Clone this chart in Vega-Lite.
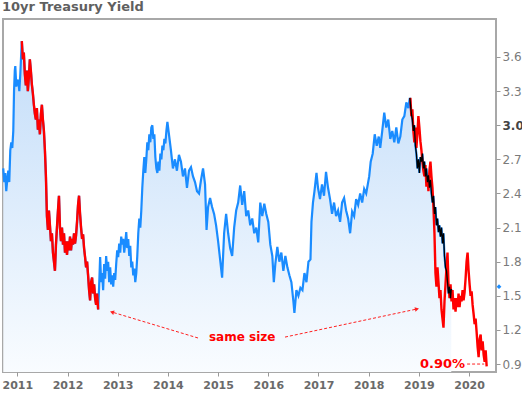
{
"$schema": "https://vega.github.io/schema/vega-lite/v6.json",
"width": 493, "height": 353,
"autosize": "none",
"padding": {"left": 3, "top": 19, "right": 26, "bottom": 21},
"background": "white",
"config": {"view": {"stroke": "#a8a8a8", "strokeWidth": 2}, "font": "DejaVu Sans"},
"title": {"text": "10yr Treasury Yield", "anchor": "start", "frame": "group", "font": "DejaVu Sans", "fontSize": 13, "fontWeight": "bold", "color": "#5f5f5f", "offset": 5, "dx": -1},
"datasets": {
"y": [
{"t":2010.72,"v":2.62},{"t":2010.74,"v":2.50},{"t":2010.76,"v":2.58},{"t":2010.78,"v":2.42},{"t":2010.80,"v":2.52},{"t":2010.82,"v":2.60},{"t":2010.84,"v":2.50},{"t":2010.86,"v":2.78},{"t":2010.88,"v":2.85},{"t":2010.90,"v":2.80},{"t":2010.92,"v":2.95},{"t":2010.935,"v":3.30},{"t":2010.95,"v":3.48},{"t":2010.96,"v":3.52},{"t":2010.98,"v":3.34},{"t":2011.00,"v":3.38},
{"t":2011.02,"v":3.40},{"t":2011.04,"v":3.30},{"t":2011.06,"v":3.45},{"t":2011.075,"v":3.60},{"t":2011.09,"v":3.74},{"t":2011.11,"v":3.58},{"t":2011.13,"v":3.64},{"t":2011.15,"v":3.45},{"t":2011.17,"v":3.35},{"t":2011.19,"v":3.48},{"t":2011.21,"v":3.30},{"t":2011.23,"v":3.42},{"t":2011.25,"v":3.58},{"t":2011.27,"v":3.48},{"t":2011.29,"v":3.36},{"t":2011.31,"v":3.28},{"t":2011.33,"v":3.18},{"t":2011.35,"v":3.10},{"t":2011.37,"v":3.05},{"t":2011.39,"v":3.15},{"t":2011.41,"v":2.96},{"t":2011.43,"v":3.05},{"t":2011.45,"v":2.92},{"t":2011.47,"v":3.10},{"t":2011.49,"v":3.18},{"t":2011.51,"v":3.05},{"t":2011.53,"v":2.95},{"t":2011.55,"v":2.78},{"t":2011.57,"v":2.55},{"t":2011.59,"v":2.20},{"t":2011.61,"v":2.08},{"t":2011.63,"v":2.25},{"t":2011.65,"v":2.12},{"t":2011.67,"v":1.98},{"t":2011.69,"v":2.05},{"t":2011.71,"v":1.88},{"t":2011.73,"v":1.80},{"t":2011.75,"v":1.72},{"t":2011.77,"v":1.95},{"t":2011.79,"v":2.10},{"t":2011.81,"v":2.25},{"t":2011.83,"v":2.38},{"t":2011.85,"v":2.10},{"t":2011.87,"v":1.98},{"t":2011.89,"v":2.10},{"t":2011.91,"v":1.95},{"t":2011.93,"v":2.05},{"t":2011.95,"v":1.88},{"t":2011.97,"v":1.98},{"t":2011.99,"v":1.86},
{"t":2012.01,"v":1.98},{"t":2012.03,"v":1.90},{"t":2012.05,"v":2.02},{"t":2012.07,"v":1.90},{"t":2012.09,"v":2.00},{"t":2012.11,"v":1.95},{"t":2012.13,"v":2.05},{"t":2012.15,"v":1.96},{"t":2012.17,"v":2.03},{"t":2012.19,"v":2.15},{"t":2012.21,"v":2.30},{"t":2012.23,"v":2.38},{"t":2012.25,"v":2.22},{"t":2012.27,"v":2.10},{"t":2012.29,"v":2.00},{"t":2012.31,"v":2.04},{"t":2012.33,"v":1.92},{"t":2012.35,"v":1.84},{"t":2012.37,"v":1.75},{"t":2012.39,"v":1.80},{"t":2012.41,"v":1.68},{"t":2012.43,"v":1.55},{"t":2012.45,"v":1.46},{"t":2012.47,"v":1.62},{"t":2012.49,"v":1.66},{"t":2012.51,"v":1.52},{"t":2012.53,"v":1.60},{"t":2012.55,"v":1.48},{"t":2012.57,"v":1.42},{"t":2012.59,"v":1.52},{"t":2012.61,"v":1.38},
{"t":2012.63,"v":1.58},{"t":2012.65,"v":1.84},{"t":2012.67,"v":1.62},{"t":2012.69,"v":1.70},{"t":2012.71,"v":1.55},{"t":2012.73,"v":1.78},{"t":2012.75,"v":1.65},{"t":2012.77,"v":1.85},{"t":2012.79,"v":1.72},{"t":2012.81,"v":1.80},{"t":2012.83,"v":1.62},{"t":2012.85,"v":1.75},{"t":2012.87,"v":1.60},{"t":2012.89,"v":1.68},{"t":2012.91,"v":1.58},{"t":2012.93,"v":1.70},{"t":2012.95,"v":1.64},{"t":2012.97,"v":1.78},{"t":2012.99,"v":1.90},
{"t":2013.01,"v":1.84},{"t":2013.03,"v":1.96},{"t":2013.05,"v":1.88},{"t":2013.07,"v":2.02},{"t":2013.09,"v":1.95},{"t":2013.11,"v":2.00},{"t":2013.13,"v":1.88},{"t":2013.15,"v":1.96},{"t":2013.17,"v":2.06},{"t":2013.19,"v":1.92},{"t":2013.21,"v":2.00},{"t":2013.23,"v":1.85},{"t":2013.25,"v":1.94},{"t":2013.27,"v":1.75},{"t":2013.29,"v":1.80},{"t":2013.31,"v":1.68},{"t":2013.33,"v":1.74},{"t":2013.35,"v":1.62},{"t":2013.37,"v":1.70},{"t":2013.39,"v":1.85},{"t":2013.41,"v":2.05},{"t":2013.43,"v":2.18},{"t":2013.45,"v":2.10},{"t":2013.47,"v":2.25},{"t":2013.49,"v":2.45},{"t":2013.51,"v":2.60},{"t":2013.53,"v":2.72},{"t":2013.55,"v":2.58},{"t":2013.57,"v":2.70},{"t":2013.59,"v":2.85},{"t":2013.61,"v":2.78},{"t":2013.63,"v":2.92},{"t":2013.65,"v":2.85},{"t":2013.67,"v":2.98},{"t":2013.69,"v":3.00},{"t":2013.71,"v":2.88},{"t":2013.73,"v":2.92},{"t":2013.75,"v":2.72},{"t":2013.77,"v":2.62},{"t":2013.79,"v":2.58},{"t":2013.81,"v":2.68},{"t":2013.83,"v":2.60},{"t":2013.85,"v":2.75},{"t":2013.87,"v":2.70},{"t":2013.89,"v":2.82},{"t":2013.91,"v":2.78},{"t":2013.93,"v":2.88},{"t":2013.95,"v":2.84},{"t":2013.97,"v":2.95},{"t":2013.99,"v":3.03},
{"t":2014.06,"v":2.78},{"t":2014.10,"v":2.62},{"t":2014.14,"v":2.70},{"t":2014.18,"v":2.60},{"t":2014.22,"v":2.74},{"t":2014.26,"v":2.68},{"t":2014.30,"v":2.55},{"t":2014.34,"v":2.62},{"t":2014.38,"v":2.45},{"t":2014.42,"v":2.60},{"t":2014.46,"v":2.63},{"t":2014.50,"v":2.55},{"t":2014.54,"v":2.50},{"t":2014.58,"v":2.42},{"t":2014.62,"v":2.40},{"t":2014.66,"v":2.52},{"t":2014.70,"v":2.62},{"t":2014.74,"v":2.48},{"t":2014.77,"v":2.08},{"t":2014.80,"v":2.28},{"t":2014.84,"v":2.36},{"t":2014.88,"v":2.28},{"t":2014.92,"v":2.22},{"t":2014.96,"v":2.12},
{"t":2015.00,"v":1.98},{"t":2015.04,"v":1.82},{"t":2015.08,"v":1.66},{"t":2015.12,"v":2.05},{"t":2015.16,"v":2.22},{"t":2015.20,"v":2.05},{"t":2015.24,"v":1.92},{"t":2015.28,"v":1.85},{"t":2015.32,"v":2.10},{"t":2015.36,"v":2.25},{"t":2015.40,"v":2.32},{"t":2015.44,"v":2.47},{"t":2015.48,"v":2.30},{"t":2015.52,"v":2.42},{"t":2015.56,"v":2.20},{"t":2015.60,"v":2.25},{"t":2015.64,"v":2.12},{"t":2015.68,"v":2.18},{"t":2015.72,"v":2.05},{"t":2015.76,"v":2.10},{"t":2015.80,"v":1.97},{"t":2015.84,"v":2.32},{"t":2015.88,"v":2.20},{"t":2015.92,"v":2.31},{"t":2015.96,"v":2.22},
{"t":2016.00,"v":2.15},{"t":2016.04,"v":1.95},{"t":2016.08,"v":1.85},{"t":2016.11,"v":1.62},{"t":2016.14,"v":1.78},{"t":2016.18,"v":1.93},{"t":2016.22,"v":1.80},{"t":2016.26,"v":1.88},{"t":2016.30,"v":1.72},{"t":2016.34,"v":1.85},{"t":2016.38,"v":1.75},{"t":2016.42,"v":1.68},{"t":2016.46,"v":1.62},{"t":2016.50,"v":1.45},{"t":2016.52,"v":1.35},{"t":2016.56,"v":1.55},{"t":2016.60,"v":1.50},{"t":2016.64,"v":1.57},{"t":2016.68,"v":1.55},{"t":2016.72,"v":1.70},{"t":2016.76,"v":1.62},{"t":2016.80,"v":1.80},{"t":2016.84,"v":1.82},{"t":2016.86,"v":2.15},{"t":2016.89,"v":2.32},{"t":2016.92,"v":2.42},{"t":2016.96,"v":2.58},{"t":2016.99,"v":2.45},
{"t":2017.03,"v":2.35},{"t":2017.07,"v":2.48},{"t":2017.11,"v":2.38},{"t":2017.15,"v":2.59},{"t":2017.19,"v":2.45},{"t":2017.23,"v":2.35},{"t":2017.27,"v":2.22},{"t":2017.31,"v":2.32},{"t":2017.35,"v":2.20},{"t":2017.39,"v":2.25},{"t":2017.43,"v":2.15},{"t":2017.47,"v":2.32},{"t":2017.51,"v":2.36},{"t":2017.55,"v":2.25},{"t":2017.59,"v":2.18},{"t":2017.63,"v":2.05},{"t":2017.67,"v":2.24},{"t":2017.71,"v":2.20},{"t":2017.75,"v":2.35},{"t":2017.79,"v":2.30},{"t":2017.83,"v":2.40},{"t":2017.87,"v":2.32},{"t":2017.91,"v":2.44},{"t":2017.95,"v":2.40},
{"t":2018.01,"v":2.55},{"t":2018.04,"v":2.68},{"t":2018.08,"v":2.75},{"t":2018.12,"v":2.92},{"t":2018.16,"v":2.82},{"t":2018.20,"v":2.90},{"t":2018.23,"v":2.80},{"t":2018.27,"v":2.95},{"t":2018.31,"v":3.11},{"t":2018.35,"v":2.98},{"t":2018.39,"v":3.05},{"t":2018.43,"v":2.88},{"t":2018.47,"v":2.95},{"t":2018.51,"v":2.85},{"t":2018.55,"v":2.98},{"t":2018.59,"v":2.84},{"t":2018.63,"v":2.90},{"t":2018.67,"v":3.05},{"t":2018.71,"v":3.08},{"t":2018.75,"v":3.20},{"t":2018.79,"v":3.15},{"t":2018.82,"v":3.24},{"t":2018.85,"v":3.10},
{"t":2018.87,"v":3.05},{"t":2018.89,"v":2.95},{"t":2018.91,"v":3.00},{"t":2018.93,"v":2.82},{"t":2018.95,"v":2.75},{"t":2018.97,"v":2.62},{"t":2018.99,"v":2.70},{"t":2019.01,"v":2.58},{"t":2019.03,"v":2.72},{"t":2019.05,"v":2.68},{"t":2019.07,"v":2.75},{"t":2019.09,"v":2.62},{"t":2019.11,"v":2.68},{"t":2019.13,"v":2.55},{"t":2019.15,"v":2.62},{"t":2019.17,"v":2.50},{"t":2019.19,"v":2.56},{"t":2019.21,"v":2.45},{"t":2019.23,"v":2.52},{"t":2019.25,"v":2.40},{"t":2019.27,"v":2.32},{"t":2019.29,"v":2.38},{"t":2019.31,"v":2.22},{"t":2019.33,"v":2.28},{"t":2019.35,"v":2.12},{"t":2019.37,"v":2.18},{"t":2019.39,"v":2.06},{"t":2019.41,"v":2.12},{"t":2019.43,"v":2.02},{"t":2019.45,"v":2.10},{"t":2019.47,"v":1.96},{"t":2019.49,"v":2.05},{"t":2019.51,"v":1.85},{"t":2019.53,"v":1.75},{"t":2019.55,"v":1.72},{"t":2019.57,"v":1.62},{"t":2019.59,"v":1.52},{"t":2019.61,"v":1.58},{"t":2019.63,"v":1.48},{"t":2019.645,"v":1.56}
],
"proj": [
{"t":2018.83,"v":3.24},{"t":2018.85,"v":3.08},{"t":2018.87,"v":3.14},{"t":2018.89,"v":2.95},{"t":2018.91,"v":2.85},{"t":2018.93,"v":2.98},{"t":2018.95,"v":2.80},{"t":2018.97,"v":2.92},{"t":2018.99,"v":3.08},{"t":2019.01,"v":2.98},{"t":2019.03,"v":2.86},{"t":2019.05,"v":2.78},{"t":2019.07,"v":2.68},{"t":2019.09,"v":2.60},{"t":2019.11,"v":2.55},{"t":2019.13,"v":2.65},{"t":2019.15,"v":2.46},{"t":2019.17,"v":2.55},{"t":2019.19,"v":2.42},{"t":2019.21,"v":2.60},{"t":2019.23,"v":2.68},{"t":2019.25,"v":2.55},{"t":2019.27,"v":2.45},{"t":2019.29,"v":2.28},{"t":2019.31,"v":2.05},{"t":2019.33,"v":1.70},{"t":2019.35,"v":1.58},{"t":2019.37,"v":1.75},{"t":2019.39,"v":1.62},{"t":2019.41,"v":1.48},{"t":2019.43,"v":1.55},{"t":2019.45,"v":1.38},{"t":2019.47,"v":1.30},{"t":2019.49,"v":1.22},{"t":2019.51,"v":1.45},{"t":2019.53,"v":1.60},{"t":2019.55,"v":1.75},{"t":2019.57,"v":1.88},{"t":2019.59,"v":1.60},{"t":2019.61,"v":1.48},{"t":2019.63,"v":1.60},{"t":2019.65,"v":1.45},{"t":2019.67,"v":1.55},{"t":2019.69,"v":1.38},{"t":2019.71,"v":1.48},{"t":2019.73,"v":1.36},{"t":2019.75,"v":1.48},{"t":2019.77,"v":1.40},{"t":2019.79,"v":1.52},{"t":2019.81,"v":1.40},{"t":2019.83,"v":1.50},{"t":2019.85,"v":1.45},{"t":2019.87,"v":1.55},{"t":2019.89,"v":1.46},{"t":2019.91,"v":1.53},{"t":2019.93,"v":1.65},{"t":2019.95,"v":1.80},{"t":2019.97,"v":1.88},{"t":2019.99,"v":1.72},{"t":2020.01,"v":1.60},{"t":2020.03,"v":1.50},{"t":2020.05,"v":1.54},{"t":2020.07,"v":1.42},{"t":2020.09,"v":1.34},{"t":2020.11,"v":1.25},{"t":2020.13,"v":1.30},{"t":2020.15,"v":1.18},{"t":2020.17,"v":1.05},{"t":2020.19,"v":0.96},{"t":2020.21,"v":1.12},{"t":2020.23,"v":1.16},{"t":2020.25,"v":1.02},{"t":2020.27,"v":1.10},{"t":2020.29,"v":0.98},{"t":2020.31,"v":0.92},{"t":2020.33,"v":1.02},{"t":2020.35,"v":0.88}
],
"arrows": [
{"t":2014.600,"v":1.129,"t2":2012.886,"v2":1.357},
{"t":2016.333,"v":1.137,"t2":2018.962,"v2":1.384}
]
},
"encoding": {
"x": {"field": "t", "type": "quantitative", "scale": {"domain": [2010.715, 2020.536], "nice": false, "zero": false},
 "axis": {"title": null, "values": [2011,2012,2013,2014,2015,2016,2017,2018,2019,2020], "format": "d", "grid": false, "domain": false, "tickSize": 4, "tickColor": "#999", "labelFont": "DejaVu Sans", "labelFontSize": 11, "labelFontWeight": "bold", "labelColor": "#6a6a6a", "labelPadding": 3}},
"y": {"field": "v", "type": "quantitative", "scale": {"domain": [0.83, 3.934], "nice": false, "zero": false},
 "axis": {"title": null, "orient": "right", "values": [0.9,1.2,1.5,1.8,2.1,2.4,2.7,3.0,3.3,3.6], "format": ".1f", "grid": false, "domain": false, "tickSize": 4, "tickColor": "#999", "labelFont": "DejaVu Sans", "labelFontSize": 12, "labelPadding": 2,
  "labelFontWeight": {"condition": {"test": "datum.value == 3", "value": "bold"}, "value": "normal"},
  "labelColor": {"condition": {"test": "datum.value == 3", "value": "#444444"}, "value": "#7a7a7a"}}}
},
"layer": [
{"data": {"name": "y"}, "mark": {"type": "area", "color": {"gradient": "linear", "x1": 0, "y1": 0, "x2": 0, "y2": 1, "stops": [{"offset": 0, "color": "#c3ddf9"}, {"offset": 1, "color": "#f9fcff"}]}},
 "encoding": {"y2": {"datum": 0.83}}},
{"data": {"name": "y"}, "mark": {"type": "line", "color": "#1a8cff", "strokeWidth": 2.2}},
{"data": {"name": "y"}, "transform": [{"filter": "datum.t >= 2011.09 && datum.t <= 2012.61"}], "mark": {"type": "line", "color": "#ff0000", "strokeWidth": 2.4}},
{"data": {"name": "proj"}, "mark": {"type": "line", "color": "#ff0000", "strokeWidth": 2.4}},
{"data": {"name": "y"}, "transform": [{"filter": "datum.t >= 2018.82"}], "mark": {"type": "line", "color": "#000000", "strokeWidth": 1.3}},
{"data": {"name": "arrows"}, "mark": {"type": "rule", "color": "#ff2020", "strokeWidth": 1, "strokeDash": [3, 2]},
 "encoding": {"x2": {"field": "t2"}, "y2": {"field": "v2"}}},
{"data": {"values": [{"t": 2012.886, "v": 1.357}]}, "mark": {"type": "point", "shape": "triangle-up", "filled": true, "color": "#ff2020", "size": 22, "angle": 287, "opacity": 1}},
{"data": {"values": [{"t": 2018.962, "v": 1.384}]}, "mark": {"type": "point", "shape": "triangle-up", "filled": true, "color": "#ff2020", "size": 22, "angle": 78, "opacity": 1}},
{"data": {"values": [{"t": 2015.48, "v": 1.137, "label": "same size"}]}, "mark": {"type": "text", "font": "DejaVu Sans", "fontSize": 12, "fontWeight": "bold", "color": "#ff0000", "align": "center", "baseline": "middle"},
 "encoding": {"text": {"field": "label"}}},
{"data": {"values": [{"t": 2019.92, "v": 0.9, "label": "0.90%"}]}, "mark": {"type": "text", "font": "DejaVu Sans", "fontSize": 13, "fontWeight": "bold", "color": "#ff0000", "align": "right", "baseline": "middle"},
 "encoding": {"text": {"field": "label"}}},
{"data": {"values": [{"t": 2019.96, "v": 0.9, "t2": 2020.30}]}, "mark": {"type": "rule", "color": "#ff2020", "strokeWidth": 1, "strokeDash": [3, 2]},
 "encoding": {"x2": {"field": "t2"}}},
{"data": {"values": [{"t": 2020.596, "v": 1.58}]}, "mark": {"type": "point", "shape": "diamond", "filled": true, "color": "#1a8cff", "size": 22, "opacity": 1, "clip": false}}
]
}
